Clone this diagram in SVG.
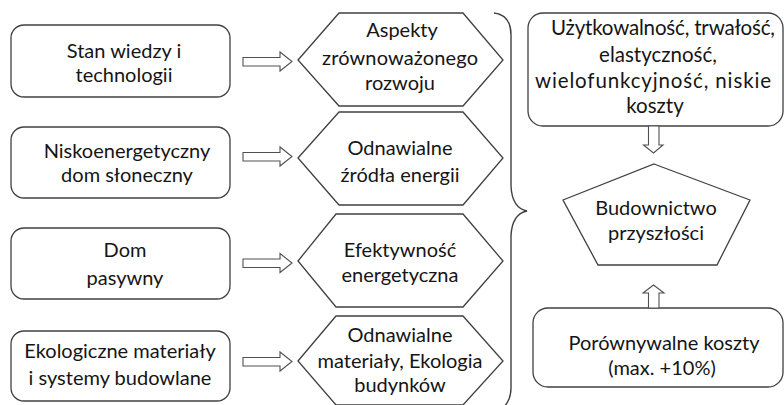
<svg xmlns="http://www.w3.org/2000/svg" width="784" height="405" viewBox="0 0 784 405">
  <style>
    .shape { fill: #ffffff; stroke: #404040; stroke-width: 1.3; }
    .arrow { fill: #ffffff; stroke: #505050; stroke-width: 1.1; }
    .brace { fill: none; stroke: #404040; stroke-width: 1.4; }
    text { font-family: Lato, "Open Sans", "DejaVu Sans", sans-serif; font-size: 20px; fill: #151515; text-anchor: middle; }
    #cechy text { font-size: 20.5px; }
  </style>
  <rect width="784" height="405" fill="#ffffff"/>

  <!-- left column: starting points -->
  <g id="stan-wiedzy">
    <rect class="shape" x="11" y="25" width="219" height="72" rx="13"/>
    <text x="124" y="58">Stan wiedzy i</text>
    <text x="124" y="82">technologii</text>
  </g>
  <g id="dom-sloneczny">
    <rect class="shape" x="11" y="127" width="219" height="71" rx="13"/>
    <text x="127" y="158">Niskoenergetyczny</text>
    <text x="127" y="182">dom słoneczny</text>
  </g>
  <g id="dom-pasywny">
    <rect class="shape" x="11" y="228" width="219" height="71" rx="13"/>
    <text x="125" y="257">Dom</text>
    <text x="125" y="285">pasywny</text>
  </g>
  <g id="ekologiczne-materialy">
    <rect class="shape" x="11" y="331" width="219" height="70" rx="13"/>
    <text x="120" y="358">Ekologiczne materiały</text>
    <text x="120" y="385">i systemy budowlane</text>
  </g>

  <!-- middle column: hexagons -->
  <g id="aspekty">
    <polygon class="shape" points="298,60 339,13 463,13 503,60 463,106 339,106"/>
    <text x="402" y="37">Aspekty</text>
    <text x="400" y="65" textLength="156" lengthAdjust="spacing">zrównoważonego</text>
    <text x="400" y="90">rozwoju</text>
  </g>
  <g id="zrodla-energii">
    <polygon class="shape" points="298,158 339,112 463,112 503,158 463,205 339,205"/>
    <text x="400" y="155">Odnawialne</text>
    <text x="400" y="182">źródła energii</text>
  </g>
  <g id="efektywnosc">
    <polygon class="shape" points="298,261 336,214 463,214 503,261 463,307 336,307"/>
    <text x="400" y="257">Efektywność</text>
    <text x="400" y="282">energetyczna</text>
  </g>
  <g id="odnawialne-materialy">
    <polygon class="shape" points="298,361 336,316 463,316 503,361 463,405 336,405"/>
    <text x="400" y="342">Odnawialne</text>
    <text x="400" y="368">materiały, Ekologia</text>
    <text x="400" y="392">budynków</text>
  </g>

  <!-- right column -->
  <g id="cechy">
    <rect class="shape" x="528" y="13" width="255" height="113" rx="15"/>
    <text x="663" y="35" textLength="224" lengthAdjust="spacing">Użytkowalność, trwałość,</text>
    <text x="658" y="62">elastyczność,</text>
    <text x="653" y="88" textLength="236" lengthAdjust="spacing">wielofunkcyjność, niskie</text>
    <text x="655" y="113">koszty</text>
  </g>
  <g id="budownictwo">
    <polygon class="shape" points="654,164 750,200 717,265 598,265 563,200"/>
    <text x="656" y="215">Budownictwo</text>
    <text x="656" y="240">przyszłości</text>
  </g>
  <g id="koszty">
    <rect class="shape" x="533" y="308" width="250" height="79" rx="15"/>
    <text x="664" y="350">Porównywalne koszty</text>
    <text x="662" y="375">(max. +10%)</text>
  </g>

  <!-- connectors -->
  <g id="connectors">
    <polygon class="arrow" points="243,57.5 280,57.5 280,52 292,61.5 280,71 280,66 243,66"/>
    <polygon class="arrow" points="243,152.5 280,152.5 280,147 292,156.5 280,166 280,161 243,161"/>
    <polygon class="arrow" points="243,259 280,259 280,253.5 292,263 280,272.5 280,267.5 243,267.5"/>
    <polygon class="arrow" points="243,357.5 280,357.5 280,352 292,361.5 280,371 280,366 243,366"/>
    <path class="brace" d="M494,13 Q511,15 511,35 L511,186 Q512,208 527,211 Q512,214 511,236 L511,388 Q511,400 503,408"/>
    <polygon class="arrow" points="648.5,126 659,126 659,145 663,145 653.5,153 643.5,145 648.5,145"/>
    <polygon class="arrow" points="648.5,308 659,308 659,293 664,293 653.5,285 643,293 648.5,293"/>
  </g>
</svg>
